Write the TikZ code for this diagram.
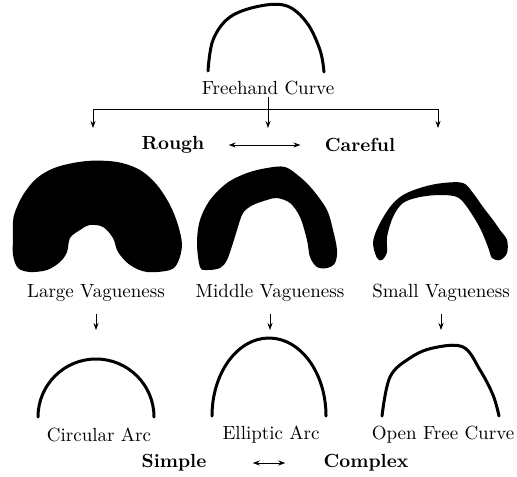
\documentclass[tikz,border=0pt]{standalone}
\usepackage{tikz}
\usetikzlibrary{arrows.meta}

\begin{document}
\begin{tikzpicture}[x=0.5pt, y=-0.5pt,
    lbl/.style={inner sep=1pt, font=\fontsize{9.5}{11}\selectfont},
    key/.style={inner sep=1pt, font=\fontsize{9.5}{11}\selectfont\bfseries},
    conn/.style={thin, -{Stealth[length=3.5pt, width=2.5pt]}},
    both/.style={thin, {Stealth[length=3.5pt, width=2.5pt]}-{Stealth[length=3.5pt, width=2.5pt]}},
    curve/.style={line width=1.5pt, line cap=round}]
  \useasboundingbox (0,0) rectangle (517,476);

  % Freehand curve on top
  \draw[curve] plot[smooth, tension=0.6] coordinates
    {(208,71) (213,40) (230,17) (260,6) (287,6) (307,23) (320,50) (324,72)};
  \node[lbl] (fc) at (268,88) {Freehand Curve};

  % Branching to the three drawings
  \coordinate (split) at (268,109);
  \coordinate (tL) at (93,128);
  \coordinate (tM) at (268,128);
  \coordinate (tR) at (438,128);
  \draw[conn] (fc.south) -- (tM);
  \draw (split -| tL) -- (split -| tR);
  \draw[conn] (split -| tL) -- (tL);
  \draw[conn] (split -| tR) -- (tR);

  % Rough <-> Careful
  \node[key] (rough) at (173,145) {Rough};
  \node[key] (careful) at (360,145) {Careful};
  \draw[both, shorten <=11pt, shorten >=11pt] (rough) -- (careful);

  % Vague drawings
  \fill[black] plot[smooth cycle, tension=0.55] coordinates
    {(13,222) (15,212) (23,195) (37,178) (57,167) (87,161) (117,162) (140,170)
     (157,185) (170,205) (178,225) (182,245) (178,262) (170,270) (147,272) (130,265)
     (118,252) (113,238) (103,227) (90,225) (80,230) (70,238) (67,252) (60,262)
     (47,270) (30,272) (18,268) (13,255) (13,238)};
  \fill[black] plot[smooth cycle, tension=0.55] coordinates
    {(200,267) (197,243) (200,220) (210,200) (227,183) (247,173) (267,168) (285,167)
     (300,177) (313,190) (327,210) (333,230) (337,250) (335,263) (327,268) (317,267)
     (310,257) (307,240) (300,217) (290,203) (277,198) (267,200) (253,205) (243,213)
     (237,230) (233,243) (227,260) (220,268) (207,270)};
  \fill[black] plot[smooth cycle, tension=0.55] coordinates
    {(377,258) (373,243) (378,227) (390,207) (403,195) (423,187) (443,183) (463,183)
     (473,193) (483,207) (493,220) (500,230) (507,240) (507,253) (500,260) (492,258)
     (488,247) (480,228) (467,207) (457,197) (440,195) (420,197) (403,203) (393,217)
     (387,237) (387,252) (382,260)};

  \node[lbl] (lv) at (96,293) {Large Vagueness};
  \node[lbl] (mv) at (270,293) {Middle Vagueness};
  \node[lbl] (sv) at (441,293) {Small Vagueness};

  % Arrows down to the fitted curves
  \coordinate (aC) at (96,330);
  \coordinate (aE) at (270,330);
  \coordinate (aF) at (441,330);
  \draw[conn, shorten <=5pt] (lv.south) -- (aC);
  \draw[conn, shorten <=5pt] (mv.south) -- (aE);
  \draw[conn, shorten <=5pt] (sv.south) -- (aF);

  % Fitted curves
  \draw[curve] (38,417) arc[start angle=180, end angle=0, radius=29pt];
  \draw[curve] (212,416) arc[start angle=180, end angle=0, x radius=28.5pt, y radius=39pt];
  \draw[curve] plot[smooth, tension=0.6] coordinates
    {(382,416) (390,377) (410,358) (433,348) (463,347) (480,370) (493,395) (499,416)};

  \node[lbl] (ca) at (99,435) {Circular Arc};
  \node[lbl] (ea) at (271,435) {Elliptic Arc};
  \node[lbl] (ofc) at (443,435) {Open Free Curve};

  % Simple <-> Complex
  \node[key] (simple) at (174,463) {Simple};
  \node[key] (complex) at (366,463) {Complex};
  \draw[both, shorten <=22pt, shorten >=18pt] (simple) -- (complex);
\end{tikzpicture}
\end{document}
